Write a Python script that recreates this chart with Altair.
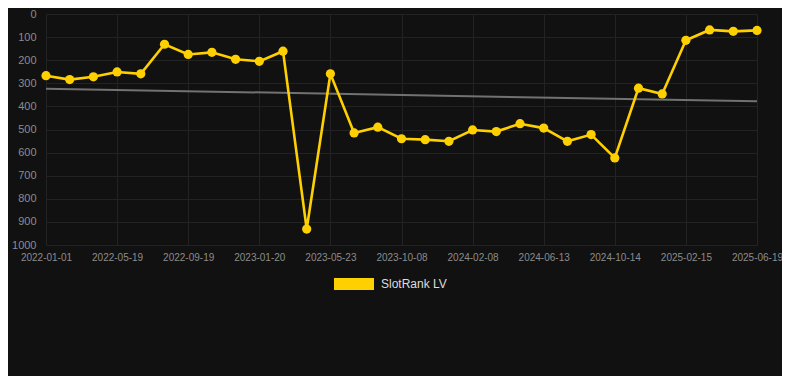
import altair as alt
import pandas as pd

tick_labels = ["2022-01-01", "2022-05-19", "2022-09-19", "2023-01-20", "2023-05-23",
               "2023-10-08", "2024-02-08", "2024-06-13", "2024-10-14", "2025-02-15",
               "2025-06-19"]
ranks = [267, 284, 272, 251, 259, 131, 175, 166, 196, 205, 161, 931, 259, 515, 490,
         540, 544, 551, 502, 509, 475, 494, 551, 522, 623, 321, 346, 114, 69, 75, 71]
series_name = "SlotRank LV"
y_ticks = list(range(0, 1001, 100))

GOLD = "#FFD000"
BG = "#111111"
GRID = "#232323"
LABEL = "#8c8c8c"
FONT = "Liberation Sans"

df = pd.DataFrame({"idx": list(range(len(ranks))), "rank": ranks, "series": series_name})
step = (len(ranks) - 1) // (len(tick_labels) - 1)
label_expr = "[" + ",".join(f"'{t}'" for t in tick_labels) + f"][round(datum.value/{step})]"

x = alt.X("idx:Q",
          scale=alt.Scale(domain=[0, len(ranks) - 1], nice=False, zero=False),
          axis=alt.Axis(values=list(range(0, len(ranks), step)), labelExpr=label_expr,
                        title=None, grid=True, domain=False, ticks=False, tickSize=0,
                        labelPadding=7, labelFontSize=10, labelColor=LABEL, labelFont=FONT,
                        gridColor=GRID, labelFlush=False, labelOverlap=False))
y = alt.Y("rank:Q",
          scale=alt.Scale(domain=[0, 1000], reverse=True, nice=False, zero=False),
          axis=alt.Axis(values=y_ticks, format="d", title=None, grid=True, domain=False,
                        ticks=False, tickSize=0, labelPadding=10, labelFontSize=11,
                        labelColor=LABEL, labelFont=FONT, gridColor=GRID,
                        labelFlush=False, labelOverlap=False))

base = alt.Chart(df).encode(x=x, y=y)

trend = base.transform_regression("idx", "rank").mark_line(color="#727272", strokeWidth=2)
line = base.mark_line(color=GOLD, strokeWidth=2.6)
points = base.mark_point(filled=True, size=85, opacity=1).encode(
    color=alt.Color("series:N", scale=alt.Scale(range=[GOLD]),
                    legend=alt.Legend(title=None, orient="none", legendX=288, legendY=250,
                                      symbolType="M-1,-0.3H1V0.3H-1Z", symbolSize=1600,
                                      symbolFillColor=GOLD, symbolStrokeWidth=0,
                                      symbolOpacity=1,
                                      labelFontSize=12, labelColor="#dddddd", labelFont=FONT,
                                      labelOffset=7, padding=0))
)

chart = alt.layer(trend, line, points).properties(
    width=711, height=231,
    autosize=alt.AutoSizeParams(type="none"),
    padding={"left": 38, "top": 6, "right": 25, "bottom": 131},
    background=BG,
).configure_view(stroke=None)

chart.save("out.html", embed_options={"renderer": "svg", "actions": False})
